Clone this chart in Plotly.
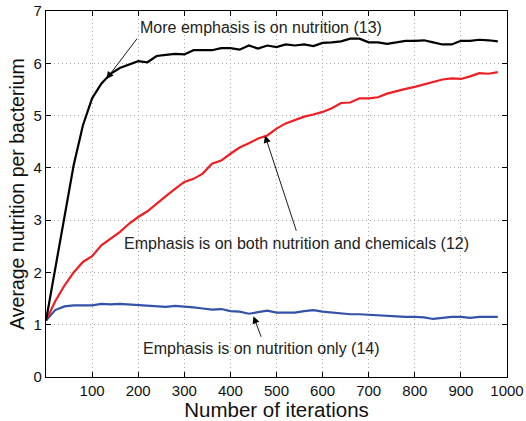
import plotly.graph_objects as go

iterations = list(range(0, 1000, 20))

nutrition_13 = [1.08, 2.05, 3.05, 4.05, 4.81, 5.33, 5.61, 5.80, 5.91, 5.97,
                6.04, 6.02, 6.14, 6.16, 6.18, 6.17, 6.25, 6.25, 6.25, 6.29,
                6.29, 6.26, 6.34, 6.28, 6.34, 6.31, 6.36, 6.34, 6.36, 6.33,
                6.39, 6.40, 6.42, 6.47, 6.47, 6.40, 6.40, 6.37, 6.40, 6.43,
                6.43, 6.44, 6.40, 6.36, 6.36, 6.43, 6.43, 6.45, 6.44, 6.42]

both_12 = [1.08, 1.45, 1.75, 2.00, 2.20, 2.31, 2.52, 2.65, 2.77, 2.93,
           3.06, 3.17, 3.32, 3.46, 3.60, 3.73, 3.79, 3.89, 4.08, 4.14,
           4.27, 4.39, 4.47, 4.56, 4.62, 4.75, 4.85, 4.91, 4.98, 5.02,
           5.07, 5.14, 5.24, 5.25, 5.33, 5.33, 5.35, 5.42, 5.47, 5.51,
           5.55, 5.60, 5.65, 5.69, 5.71, 5.70, 5.75, 5.81, 5.80, 5.83]

only_14 = [1.08, 1.28, 1.35, 1.37, 1.37, 1.37, 1.40, 1.39, 1.40, 1.39,
           1.38, 1.36, 1.35, 1.34, 1.36, 1.35, 1.33, 1.31, 1.29, 1.30,
           1.26, 1.25, 1.21, 1.24, 1.27, 1.23, 1.23, 1.23, 1.26, 1.28,
           1.25, 1.23, 1.22, 1.20, 1.20, 1.19, 1.17, 1.17, 1.16, 1.15,
           1.15, 1.14, 1.11, 1.13, 1.15, 1.15, 1.13, 1.15, 1.15, 1.15]

x_ticks = [100, 200, 300, 400, 500, 600, 700, 800, 900, 1000]
y_ticks = [0, 1, 2, 3, 4, 5, 6, 7]

label_13 = "More emphasis is on nutrition (13)"
label_12 = "Emphasis is on both nutrition and chemicals (12)"
label_14 = "Emphasis is on nutrition only (14)"

FONT = "Liberation Sans, Arial, Helvetica, sans-serif"

fig = go.Figure()
fig.add_trace(go.Scatter(x=iterations, y=only_14, mode="lines",
                         line=dict(color="#3352a8", width=2.2), showlegend=False))
fig.add_trace(go.Scatter(x=iterations, y=both_12, mode="lines",
                         line=dict(color="#f01e23", width=2.2), showlegend=False))
fig.add_trace(go.Scatter(x=iterations, y=nutrition_13, mode="lines",
                         line=dict(color="#000000", width=2.2), showlegend=False))

axis_common = dict(
    showline=True, linecolor="black", linewidth=1.3, mirror="allticks",
    ticks="inside", ticklen=5, tickcolor="black", tickwidth=1,
    showgrid=True, gridcolor="#a8a8a8", griddash="1px,3px", gridwidth=1,
    zeroline=False, tickfont=dict(size=15, color="#111", family=FONT),
    automargin=False,
)

fig.update_xaxes(range=[0, 1000], tickvals=x_ticks,
                 title=dict(text="Number of iterations", font=dict(size=20.5, color="#111", family=FONT), standoff=1),
                 **axis_common)
fig.update_yaxes(range=[0, 7], tickvals=y_ticks,
                 title=dict(text="Average nutrition per bacterium", font=dict(size=19.5, color="#111", family=FONT), standoff=3),
                 **axis_common)

arrow_style = dict(showarrow=True, arrowhead=2, arrowsize=1.6, arrowwidth=0.9,
                   arrowcolor="black", axref="x", ayref="y", xref="x", yref="y", text="")
fig.add_annotation(x=131, y=5.70, ax=200, ay=6.50, **arrow_style)
fig.add_annotation(x=475, y=4.62, ax=544, ay=2.77, **arrow_style)
fig.add_annotation(x=450, y=1.16, ax=468, ay=0.74, **arrow_style)

text_style = dict(showarrow=False, xref="x", yref="y",
                  font=dict(size=16, color="#222", family=FONT))
fig.add_annotation(x=466, y=6.68, text=label_13, **text_style)
fig.add_annotation(x=544, y=2.55, text=label_12, **text_style)
fig.add_annotation(x=468, y=0.54, text=label_14, **text_style)

fig.update_layout(
    width=526, height=421,
    margin=dict(l=46, r=19, t=11, b=44),
    paper_bgcolor="white", plot_bgcolor="white",
    font=dict(family=FONT),
)

fig.write_html("out.html", config={"displayModeBar": False},
               post_script="document.body.style.margin='0';document.body.style.overflow='hidden';")
